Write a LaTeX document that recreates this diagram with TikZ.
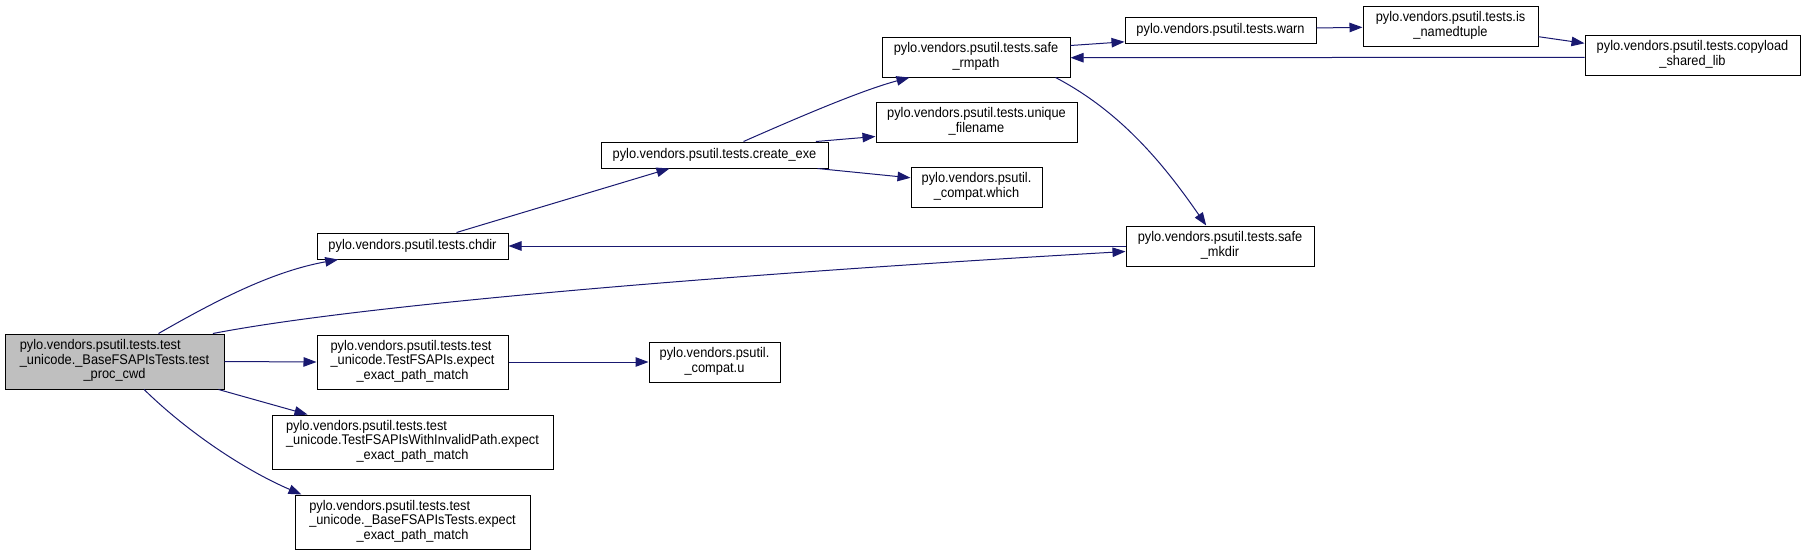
\documentclass[tikz,border=0pt]{standalone}
\usepackage{fontspec}
\setmainfont[FakeStretch=0.915]{Liberation Sans}
\usetikzlibrary{arrows.meta}
\definecolor{edgecol}{HTML}{191970}
\definecolor{maingray}{HTML}{BFBFBF}
\newcommand\mythree[3]{\begin{tabular}{@{}l@{}}#1\\#2\\\multicolumn{1}{@{}c@{}}{#3}\end{tabular}}
\newcommand\mytwo[2]{\begin{tabular}{@{}l@{}}#1\\\multicolumn{1}{@{}c@{}}{#2}\end{tabular}}
\tikzset{
  fnbox/.style={draw=black, line width=1pt, fill=white, inner sep=0pt, font=\fontsize{14pt}{14.5pt}\selectfont},
  edge/.style={draw=edgecol, line width=1pt, -{Triangle[length=13pt,width=9.5pt]}, fill=none}
}
\begin{document}
\begin{tikzpicture}[x=1pt,y=-1pt]
\useasboundingbox (0,0) rectangle (1805,555);
% nodes
\node[fnbox, fill=maingray, minimum width=219pt, minimum height=55pt] (main) at (114.5,361.5)
  {\mythree{pylo.vendors.psutil.tests.test}{\_unicode.\_BaseFSAPIsTests.test}{\_proc\_cwd}};
\node[fnbox, minimum width=191pt, minimum height=26pt] (chdir) at (412.5,246) {pylo.vendors.psutil.tests.chdir};
\node[fnbox, minimum width=191pt, minimum height=54pt] (tfs) at (412.5,362)
  {\mythree{pylo.vendors.psutil.tests.test}{\_unicode.TestFSAPIs.expect}{\_exact\_path\_match}};
\node[fnbox, minimum width=281pt, minimum height=54pt] (inv) at (412.5,442)
  {\mythree{pylo.vendors.psutil.tests.test}{\_unicode.TestFSAPIsWithInvalidPath.expect}{\_exact\_path\_match}};
\node[fnbox, minimum width=235pt, minimum height=54pt] (bfs) at (412.5,522)
  {\mythree{pylo.vendors.psutil.tests.test}{\_unicode.\_BaseFSAPIsTests.expect}{\_exact\_path\_match}};
\node[fnbox, minimum width=227pt, minimum height=26pt] (cexe) at (714.5,155) {pylo.vendors.psutil.tests.create\_exe};
\node[fnbox, minimum width=188pt, minimum height=40pt] (rmpath) at (976,57)
  {\mytwo{pylo.vendors.psutil.tests.safe}{\_rmpath}};
\node[fnbox, minimum width=201pt, minimum height=40pt] (uniq) at (976.5,122)
  {\mytwo{pylo.vendors.psutil.tests.unique}{\_filename}};
\node[fnbox, minimum width=131pt, minimum height=40pt] (which) at (976.5,187)
  {\mytwo{pylo.vendors.psutil.}{\_compat.which}};
\node[fnbox, minimum width=188pt, minimum height=40pt] (mkdir) at (1220,246)
  {\mytwo{pylo.vendors.psutil.tests.safe}{\_mkdir}};
\node[fnbox, minimum width=131pt, minimum height=40pt] (compu) at (714.5,362)
  {\mytwo{pylo.vendors.psutil.}{\_compat.u}};
\node[fnbox, minimum width=191pt, minimum height=26pt] (warn) at (1220.5,30) {pylo.vendors.psutil.tests.warn};
\node[fnbox, minimum width=175pt, minimum height=40pt] (isnt) at (1450.5,26)
  {\mytwo{pylo.vendors.psutil.tests.is}{\_namedtuple}};
\node[fnbox, minimum width=215pt, minimum height=40pt] (copy) at (1692.5,55)
  {\mytwo{pylo.vendors.psutil.tests.copyload}{\_shared\_lib}};
% edges
\draw[edge] ([xshift=154pt]main.north west) .. controls (222,297) and (275,271) .. ([xshift=21.7pt]chdir.south west);
\draw[edge] ([xshift=-11.6pt]main.north east) .. controls (362,304.6) and (727,274.3) .. ([yshift=-5.5pt]mkdir.west);
\draw[edge] (mkdir.west) -- (chdir.east);
\draw[edge] (main.east) -- (tfs.west);
\draw[edge] ([xshift=-6pt]main.south east) -- ([xshift=36pt]inv.north west);
\draw[edge] ([xshift=139.6pt]main.south west) .. controls (188.4,432.8) and (245.1,470.2) .. ([xshift=7pt]bfs.north west);
\draw[edge] (tfs.east) -- (compu.west);
\draw[edge] ([xshift=140pt]chdir.north west) -- ([xshift=69pt]cexe.south west);
\draw[edge] ([xshift=143pt]cexe.north west) .. controls (794,119.3) and (860,90.7) .. ([xshift=28pt]rmpath.south west);
\draw[edge] ([xshift=-12.7pt]cexe.north east) -- ([yshift=6pt]uniq.south west);
\draw[edge] ([xshift=-11pt]cexe.south east) -- ([yshift=-11.3pt]which.north west);
\draw[edge] ([yshift=-9pt]rmpath.north east) -- ([yshift=1.7pt]warn.south west);
\draw[edge] ([yshift=2pt]warn.east) -- ([yshift=-1.3pt]isnt.west);
\draw[edge] ([yshift=-10.7pt]isnt.east) -- ([yshift=11.7pt]copy.west);
\draw[edge] ([yshift=-2.3pt]copy.west) -- ([yshift=-0.7pt]rmpath.east);
\draw[edge] ([xshift=-15pt]rmpath.south east) .. controls (1121,111.8) and (1164,164.5) .. ([xshift=80.7pt]mkdir.north west);
\end{tikzpicture}
\end{document}
